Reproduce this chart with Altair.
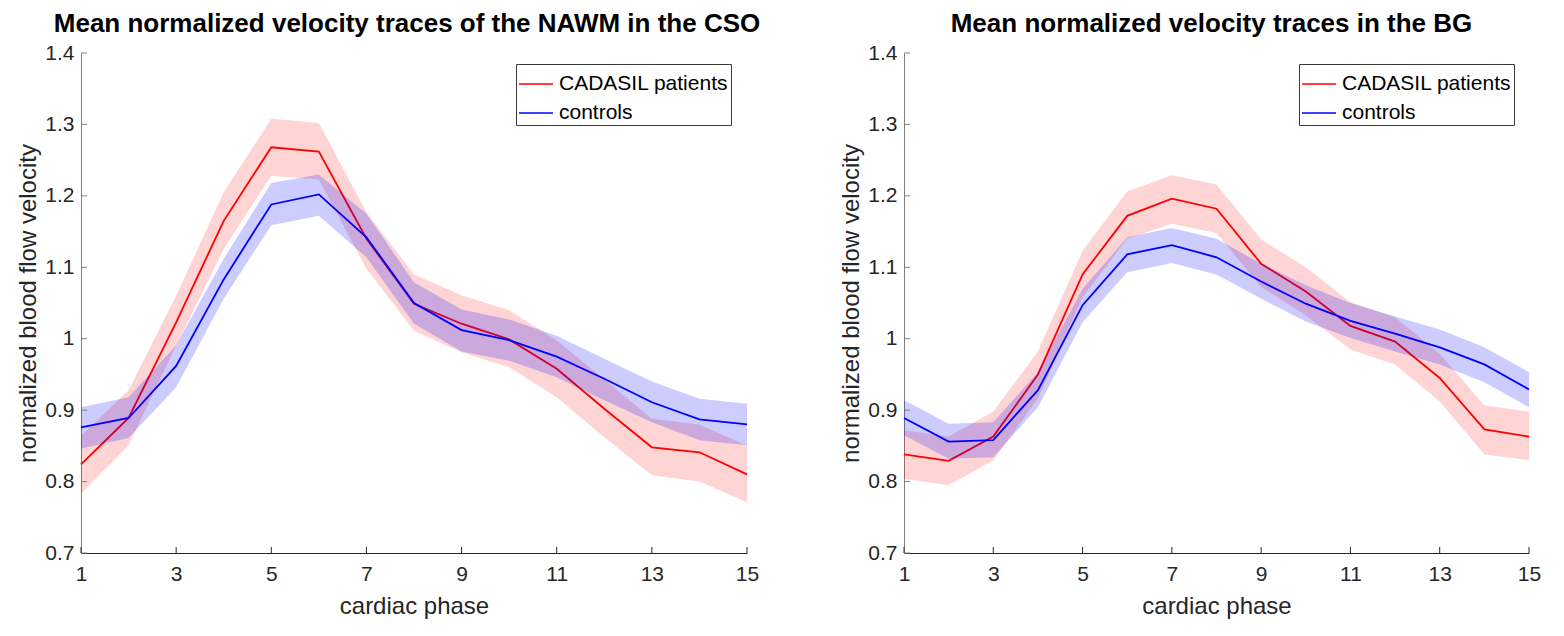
import altair as alt
import pandas as pd

phase = list(range(1, 16))
groups = ["CADASIL patients", "controls"]

# Left panel: NAWM in the CSO
cso_pat_mean = [0.824, 0.889, 1.023, 1.165, 1.268, 1.262, 1.140, 1.049, 1.021, 0.999, 0.958, 0.902, 0.848, 0.841, 0.810]
cso_pat_lo = [0.783, 0.851, 0.990, 1.126, 1.228, 1.223, 1.098, 1.011, 0.981, 0.960, 0.918, 0.862, 0.809, 0.800, 0.771]
cso_pat_hi = [0.864, 0.928, 1.060, 1.205, 1.308, 1.302, 1.177, 1.090, 1.061, 1.040, 0.998, 0.943, 0.888, 0.880, 0.850]
cso_ctl_mean = [0.876, 0.889, 0.962, 1.083, 1.188, 1.202, 1.142, 1.050, 1.012, 0.998, 0.975, 0.944, 0.911, 0.887, 0.880]
cso_ctl_lo = [0.846, 0.861, 0.932, 1.056, 1.159, 1.172, 1.114, 1.021, 0.982, 0.969, 0.946, 0.914, 0.883, 0.858, 0.851]
cso_ctl_hi = [0.904, 0.918, 0.991, 1.112, 1.218, 1.230, 1.175, 1.079, 1.041, 1.027, 1.004, 0.972, 0.940, 0.916, 0.909]

# Right panel: BG
bg_pat_mean = [0.838, 0.829, 0.863, 0.950, 1.090, 1.172, 1.196, 1.182, 1.105, 1.066, 1.018, 0.996, 0.945, 0.873, 0.863]
bg_pat_lo = [0.804, 0.795, 0.830, 0.916, 1.058, 1.140, 1.161, 1.148, 1.072, 1.033, 0.985, 0.964, 0.912, 0.838, 0.830]
bg_pat_hi = [0.872, 0.863, 0.898, 0.982, 1.123, 1.206, 1.229, 1.216, 1.139, 1.100, 1.051, 1.030, 0.979, 0.907, 0.898]
bg_ctl_mean = [0.889, 0.856, 0.858, 0.928, 1.047, 1.118, 1.131, 1.114, 1.080, 1.049, 1.025, 1.007, 0.988, 0.964, 0.929]
bg_ctl_lo = [0.865, 0.832, 0.834, 0.904, 1.023, 1.093, 1.106, 1.090, 1.056, 1.024, 1.001, 0.982, 0.964, 0.939, 0.904]
bg_ctl_hi = [0.914, 0.881, 0.883, 0.953, 1.070, 1.142, 1.155, 1.140, 1.105, 1.075, 1.050, 1.031, 1.013, 0.988, 0.953]

x_ticks = [1, 3, 5, 7, 9, 11, 13, 15]
y_ticks = [0.7, 0.8, 0.9, 1.0, 1.1, 1.2, 1.3, 1.4]

FONT = "Liberation Sans"
RED = "#ff0000"
BLUE = "#0000ff"
H = 500


def panel(title, pm, plo, phi, cm, clo, chi, width, lx, dx):
    rows = []
    for g, m, lo, hi in [(groups[0], pm, plo, phi), (groups[1], cm, clo, chi)]:
        for p, a, b, c in zip(phase, m, lo, hi):
            rows.append({"phase": p, "group": g, "v": a, "lo": b, "hi": c})
    df = pd.DataFrame(rows)

    x_axis = alt.Axis(values=x_ticks, title="cardiac phase", tickSize=0, grid=False,
                      labelFont=FONT, labelFontSize=21, labelColor="#262626", labelPadding=10,
                      titleFont=FONT, titleFontSize=24, titleFontWeight="normal",
                      titleColor="#262626", titlePadding=10, domainColor="#262626",
                      labelFlush=False)
    y_axis = alt.Axis(values=y_ticks, title="normalized blood flow velocity", tickSize=0,
                      grid=False, format="~g", labelFont=FONT, labelFontSize=21,
                      labelColor="#262626", labelPadding=7, titleFont=FONT, titleFontSize=24,
                      titleFontWeight="normal", titleColor="#262626", titlePadding=4,
                      domainColor="#808080", labelFlush=False)
    xs = alt.Scale(domain=[1, 15], nice=False, zero=False)
    ys = alt.Scale(domain=[0.7, 1.4], nice=False, zero=False)
    X = alt.X("phase:Q", scale=xs, axis=x_axis)
    color = alt.Color("group:N",
                      scale=alt.Scale(domain=groups, range=[RED, BLUE]),
                      legend=alt.Legend(title=None, orient="none", legendX=lx, legendY=11,
                                        symbolType="stroke", symbolSize=1156,
                                        symbolStrokeWidth=1.6, labelFont=FONT,
                                        labelFontSize=21, labelColor="black", labelLimit=400,
                                        labelOffset=5, rowPadding=1, padding=2,
                                        strokeColor="#3c3c3c", fillColor="white"))

    base = alt.Chart(df)
    band_r = base.transform_filter(alt.datum.group == groups[0]).mark_area(
        color=RED, opacity=0.17).encode(x=X, y=alt.Y("lo:Q", scale=ys, axis=y_axis), y2="hi:Q")
    line_r = base.transform_filter(alt.datum.group == groups[0]).mark_line(
        strokeWidth=1.8).encode(x=X, y=alt.Y("v:Q", scale=ys, axis=y_axis), color=color)
    band_b = base.transform_filter(alt.datum.group == groups[1]).mark_area(
        color=BLUE, opacity=0.2).encode(x=X, y=alt.Y("lo:Q", scale=ys, axis=y_axis), y2="hi:Q")
    line_b = base.transform_filter(alt.datum.group == groups[1]).mark_line(
        strokeWidth=1.8).encode(x=X, y=alt.Y("v:Q", scale=ys, axis=y_axis), color=color)

    yt = alt.Chart(pd.DataFrame({"tv": y_ticks})).mark_rule(color="#808080").encode(
        y=alt.Y("tv:Q", scale=ys, axis=y_axis), x=alt.value(0), x2=alt.value(6))
    xt = alt.Chart(pd.DataFrame({"tp": x_ticks})).mark_rule(color="#262626").encode(
        x=alt.X("tp:Q", scale=xs, axis=x_axis), y=alt.value(H), y2=alt.value(H - 6))

    return alt.layer(band_r, line_r, band_b, line_b, yt, xt).properties(
        width=width, height=H,
        title=alt.TitleParams(title, font=FONT, fontSize=26, fontWeight="bold",
                              color="black", anchor="middle", offset=5, dx=dx))


left = panel("Mean normalized velocity traces of the NAWM in the CSO",
             cso_pat_mean, cso_pat_lo, cso_pat_hi, cso_ctl_mean, cso_ctl_lo, cso_ctl_hi,
             666, 435, -7)
right = panel("Mean normalized velocity traces in the BG",
              bg_pat_mean, bg_pat_lo, bg_pat_hi, bg_ctl_mean, bg_ctl_lo, bg_ctl_hi,
              625, 395, -5)

chart = alt.hconcat(left, right, spacing=78).resolve_scale(color="independent").resolve_legend(
    color="independent").configure_view(stroke=None).properties(
    padding={"left": 8, "top": 3, "right": 5, "bottom": 5})

chart.save("out.html", embed_options={"renderer": "svg", "actions": False})
